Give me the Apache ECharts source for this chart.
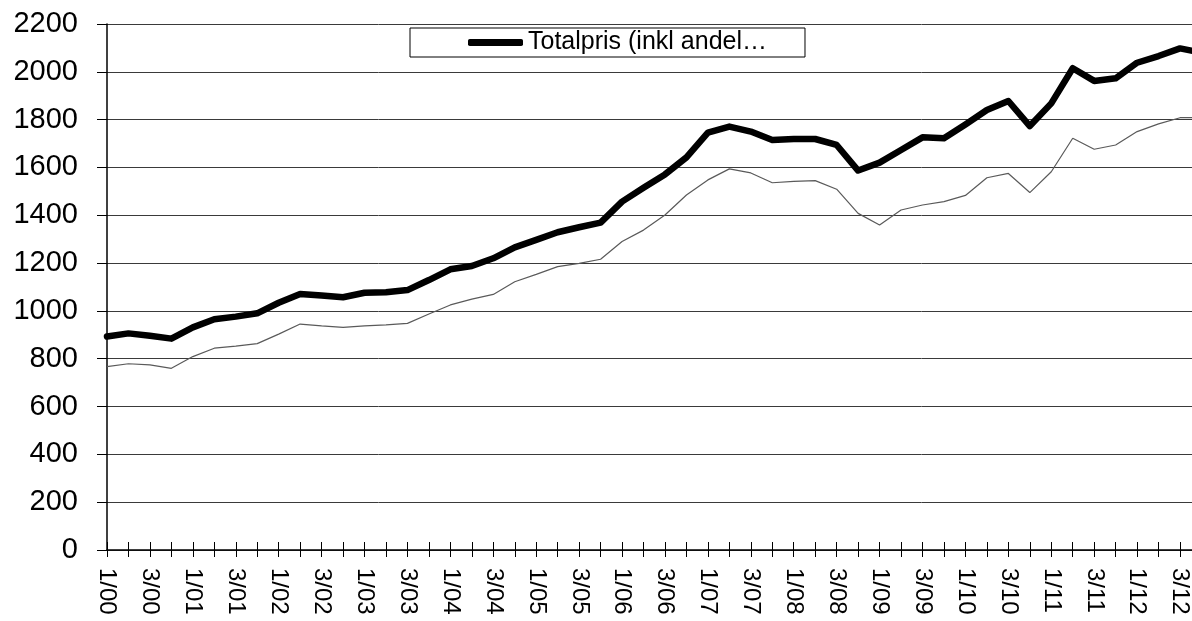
<!DOCTYPE html>
<html>
<head>
<meta charset="utf-8">
<script src="https://cdn.jsdelivr.net/npm/echarts@6/dist/echarts.min.js"></script>
<style>
html,body{margin:0;padding:0;background:#fff;}
#chart{width:1192px;height:621px;}
</style>
</head>
<body>
<div id="chart"></div>
<script>
const categories = [
  "1/00","2/00","3/00","4/00","1/01","2/01","3/01","4/01","1/02","2/02","3/02","4/02",
  "1/03","2/03","3/03","4/03","1/04","2/04","3/04","4/04","1/05","2/05","3/05","4/05",
  "1/06","2/06","3/06","4/06","1/07","2/07","3/07","4/07","1/08","2/08","3/08","4/08",
  "1/09","2/09","3/09","4/09","1/10","2/10","3/10","4/10","1/11","2/11","3/11","4/11",
  "1/12","2/12","3/12","4/12"
];
const totalprisName = "Totalpris (inkl andel…";
const totalpris = [
  893, 906, 896, 884, 931, 965, 976, 990, 1034, 1071,
  1064, 1057, 1076, 1078, 1087, 1129, 1174, 1188, 1220, 1266,
  1297, 1329, 1350, 1369, 1457, 1515, 1571, 1642, 1746, 1771,
  1750, 1715, 1719, 1719, 1694, 1587, 1620, 1673, 1726, 1722,
  1780, 1840, 1878, 1773, 1868, 2015, 1962, 1973, 2038, 2066,
  2098, 2080
];
const pris = [
  767, 779, 774, 760, 809, 844, 853, 863, 903, 945,
  937, 931, 937, 942, 948, 987, 1025, 1049, 1069, 1122,
  1153, 1185, 1199, 1216, 1290, 1338, 1401, 1485, 1548, 1594,
  1577, 1536, 1542, 1545, 1509, 1408, 1359, 1422, 1443, 1457,
  1483, 1557, 1575, 1495, 1582, 1722, 1676, 1694, 1750, 1782,
  1808, 1808
];
const yTicks = { min: 0, max: 2200, interval: 200 };

const chart = echarts.init(document.getElementById('chart'), null, {renderer: 'canvas'});
const FONT = '"Liberation Sans", Arial, sans-serif';
chart.setOption({
  animation: false,
  backgroundColor: '#ffffff',
  textStyle: { fontFamily: FONT, color: '#000' },
  grid: { left: 107, top: 24, bottom: 71, right: -9.5, containLabel: false, outerBoundsMode: 'none' },
  legend: {
    left: 410, top: 28,
    data: [{ name: totalprisName, icon: 'roundRect' }],
    itemWidth: 55, itemHeight: 7,
    padding: [2, 38, 2, 58],
    borderColor: '#000', borderWidth: 1,
    textStyle: { fontFamily: FONT, fontSize: 25, color: '#000' },
    itemStyle: { color: '#000' }
  },
  xAxis: [{
    type: 'category',
    data: categories,
    boundaryGap: false,
    axisLine: { lineStyle: { color: '#000', width: 1.5 } },
    axisTick: { show: true, interval: 0, length: 7, lineStyle: { color: '#000' } },
    axisLabel: { interval: 1, rotate: -90, margin: 18, fontSize: 24, fontFamily: FONT, color: '#000' },
    splitLine: { show: false }
  }, {
    type: 'category',
    data: categories,
    boundaryGap: false,
    position: 'bottom',
    axisLine: { show: false },
    axisTick: { show: true, inside: true, interval: 0, length: 8, lineStyle: { color: '#000' } },
    axisLabel: { show: false },
    splitLine: { show: false }
  }],
  yAxis: {
    type: 'value',
    min: yTicks.min, max: yTicks.max, interval: yTicks.interval,
    axisLine: { show: true, lineStyle: { color: '#000', width: 1.5 } },
    axisTick: { show: true, length: 10, lineStyle: { color: '#000' } },
    axisLabel: { margin: 29, fontSize: 29, fontFamily: FONT, color: '#000', formatter: function (v) { return String(v); } },
    splitLine: { show: true, lineStyle: { color: '#3a3a3a', width: 1 } }
  },
  series: [{
    name: 'Pris',
    type: 'line',
    data: pris,
    showSymbol: false,
    symbol: 'none',
    lineStyle: { color: '#5a5a5a', width: 1.2 },
    itemStyle: { color: '#5a5a5a' },
    z: 2
  }, {
    name: totalprisName,
    type: 'line',
    data: totalpris,
    showSymbol: false,
    symbol: 'none',
    lineStyle: { color: '#000', width: 6.5, cap: 'round', join: 'round' },
    itemStyle: { color: '#000' },
    z: 3
  }]
});
</script>
</body>
</html>
